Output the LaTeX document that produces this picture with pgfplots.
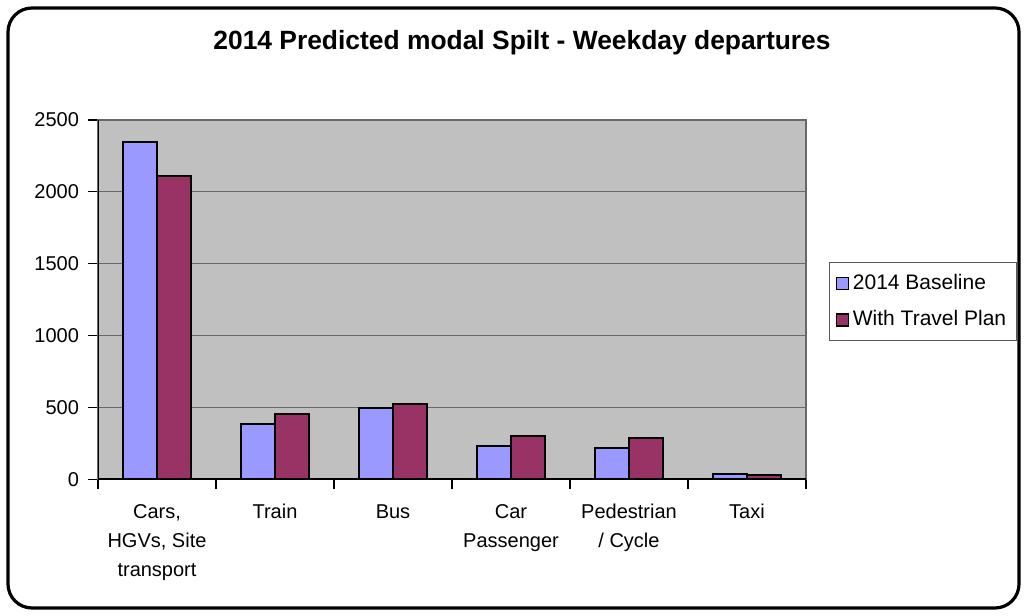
\documentclass[border=0pt]{standalone}
\usepackage{pgfplots}
\pgfplotsset{compat=1.18}
\usepackage{fontspec}
\setmainfont{Liberation Sans}
\definecolor{baseC}{HTML}{9999FF}
\definecolor{planC}{HTML}{993366}
\definecolor{bgC}{HTML}{C0C0C0}
\definecolor{gridC}{HTML}{686868}
\begin{document}
\begin{tikzpicture}[x=0.5pt,y=0.5pt]
\useasboundingbox (0,0) rectangle (1026,615);
\draw[line width=1.6pt, rounded corners=12pt] (8,7) rectangle (1019,607);
\node[font=\bfseries\fontsize{13.2}{16}\selectfont] at (522,572) {2014 Predicted modal Spilt - Weekday departures};
\begin{axis}[
  at={(49pt,67.85pt)}, anchor=south west,
  scale only axis, width=354pt, height=179.65pt,
  ybar=0pt, bar width=17pt,
  xmin=-0.5, xmax=5.5, ymin=0, ymax=2500,
  ytick={0,500,...,2500},
  xtick={0,...,5},
  xticklabels={{Cars,\\HGVs, Site\\transport},{Train},{Bus},{Car\\Passenger},{Pedestrian\\/ Cycle},{Taxi}},
  minor xtick={-0.5,0.5,...,5.5},
  xtick pos=bottom, ytick pos=left,
  tick align=outside,
  major tick length=5pt, minor tick length=5pt,
  x tick style={draw=none},
  minor x tick style={draw=black, line width=0.6pt},
  y tick style={draw=black, line width=0.6pt},
  xticklabel style={align=center, font=\fontsize{10}{14.5}\selectfont, yshift=-4pt},
  yticklabel style={font=\fontsize{10}{12}\selectfont, xshift=-1pt},
  /pgf/number format/assume math mode=true,
  /pgf/number format/1000 sep={},
  axis background/.style={fill=bgC},
  ymajorgrids, major grid style={draw=gridC, line width=0.6pt},
  axis line style={draw=gridC, line width=0.6pt},
  legend style={at={(1.0325,0.6048)}, anchor=north west, draw=gray!70!black, line width=0.5pt,
    font=\fontsize{10.5}{12}\selectfont, row sep=5pt, inner xsep=3pt, inner ysep=4pt,
    /tikz/every even column/.append style={column sep=2pt}},
  legend cell align=left,
  legend image code/.code={\draw[#1, draw=black, line width=0.7pt] (0pt,-3pt) rectangle (6pt,3pt);},
]
\addplot[fill=baseC, draw=black, line width=1pt] coordinates {(0,2345) (1,385) (2,494) (3,232) (4,218) (5,35)};
\addplot[fill=planC, draw=black, line width=1pt] coordinates {(0,2109) (1,454) (2,521) (3,301) (4,287) (5,32)};
\legend{2014 Baseline, With Travel Plan}
\draw[black, line width=0.8pt] (rel axis cs:0,1) -- (rel axis cs:0,0) -- (rel axis cs:1,0);
\end{axis}
\end{tikzpicture}
\end{document}
